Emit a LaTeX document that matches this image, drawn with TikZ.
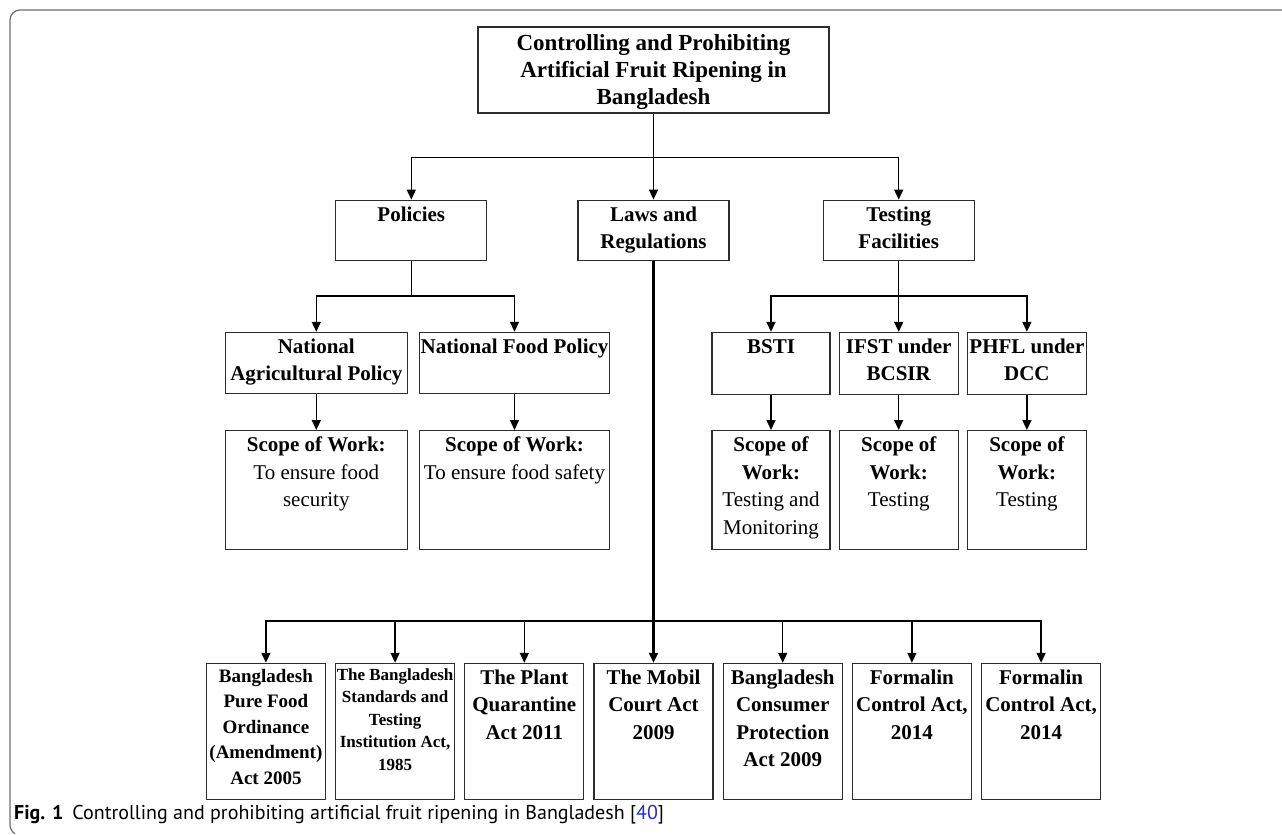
\documentclass[tikz,border=0pt]{standalone}
\usepackage{fontspec}
\setmainfont{Liberation Serif}
\newfontfamily\capfont{PT Sans}
\usetikzlibrary{positioning,arrows.meta}
\definecolor{boxgray}{RGB}{45,45,45}
\definecolor{framegray}{RGB}{110,110,110}
\definecolor{refblue}{RGB}{40,40,220}
\tikzstyle{box}=[draw=boxgray, line width=1.2pt, inner sep=0pt, font=\bfseries\fontsize{21}{27.5}\selectfont]
\tikzstyle{arrow}=[line width=1.5pt, -{Triangle[length=10pt,width=9pt]}]
\tikzstyle{line}=[line width=1.5pt]
\newcommand{\boxtext}[3]{\parbox[c][#2][t]{#1}{\centering\rule{0pt}{1em}#3}}

\begin{document}
\begin{tikzpicture}[x=1pt,y=-1pt]
\useasboundingbox (0,0) rectangle (1282,835);
\draw[framegray, line width=1.2pt] (1282,10) -- (20,10) arc[start angle=270,end angle=180,radius=10] -- (10,825) arc[start angle=180,end angle=120,radius=10];

\node (top) [box, font=\bfseries\fontsize{23}{27}\selectfont] at (653.5,70) {\boxtext{351pt}{86pt}{Controlling and Prohibiting\\Artificial Fruit Ripening in\\Bangladesh}};
\node (law) [box, below=86pt of top] {\boxtext{151pt}{60pt}{Laws and\\Regulations}};
\node (pol) [box, left=90pt of law] {\boxtext{151pt}{60pt}{Policies}};
\node (tf) [box, right=93pt of law] {\boxtext{151pt}{60pt}{Testing\\Facilities}};

% policies
\node (nap) [box, below=71pt of pol, xshift=-95pt] {\boxtext{182pt}{61pt}{National\\Agricultural Policy}};
\node (nfp) [box, right=11pt of nap] {\boxtext{190pt}{61pt}{National Food Policy}};
\node (napw) [box, below=36pt of nap] {\boxtext{182pt}{119pt}{Scope of Work:\\\mdseries To ensure food\\security}};
\node (nfpw) [box, below=36pt of nfp] {\boxtext{190pt}{119pt}{Scope of Work:\\\mdseries To ensure food safety}};

% testing facilities
\node (ifst) [box, below=71pt of tf] {\boxtext{119pt}{62pt}{IFST under\\BCSIR}};
\node (bsti) [box, left=8pt of ifst] {\boxtext{118pt}{62pt}{BSTI}};
\node (phfl) [box, right=8pt of ifst] {\boxtext{119pt}{62pt}{PHFL under\\DCC}};
\node (bstiw) [box, below=35pt of bsti] {\boxtext{118pt}{119pt}{Scope of\\Work:\\\mdseries Testing and\\Monitoring}};
\node (ifstw) [box, below=35pt of ifst] {\boxtext{119pt}{119pt}{Scope of\\Work:\\\mdseries Testing}};
\node (phflw) [box, below=35pt of phfl] {\boxtext{119pt}{119pt}{Scope of\\Work:\\\mdseries Testing}};

% laws and regulations
\node (act4) [box, below=402pt of law] {\boxtext{119pt}{136pt}{The Mobil\\Court Act\\2009}};
\node (act3) [box, left=9pt of act4] {\boxtext{119pt}{136pt}{The Plant\\Quarantine\\Act 2011}};
\node (act2) [box, left=9pt of act3, font=\bfseries\fontsize{17}{22.5}\selectfont] {\boxtext{119pt}{136pt}{The Bangladesh\\Standards and\\Testing\\Institution Act,\\1985}};
\node (act1) [box, left=9pt of act2, font=\bfseries\fontsize{19}{25.5}\selectfont] {\boxtext{119pt}{136pt}{Bangladesh\\Pure Food\\Ordinance\\(Amendment)\\Act 2005}};
\node (act5) [box, right=9pt of act4] {\boxtext{119pt}{136pt}{Bangladesh\\Consumer\\Protection\\Act 2009}};
\node (act6) [box, right=9pt of act5] {\boxtext{119pt}{136pt}{Formalin\\Control Act,\\2014}};
\node (act7) [box, right=9pt of act6] {\boxtext{119pt}{136pt}{Formalin\\Control Act,\\2014}};

\node (cap) [anchor=base west, inner sep=0pt, font=\capfont\fontsize{20}{24}\selectfont] at (14,819) {\textbf{Fig. 1}\hspace{9pt}Controlling and prohibiting artificial fruit ripening in Bangladesh [\textcolor{refblue}{40}]};

\coordinate (j1) at ([yshift=-44pt]top.south);
\coordinate (j2) at ([yshift=-35pt]pol.south);
\coordinate (j3) at ([yshift=-35pt]tf.south);
\coordinate (j4) at ([yshift=-360pt]law.south);

\draw[arrow] (top.south) -- (law.north);
\draw[arrow] (j1) -| (pol.north);
\draw[arrow] (j1) -| (tf.north);

\draw[line] (pol.south) -- (j2);
\draw[arrow] (j2) -| (nap.north);
\draw[arrow] (j2) -| (nfp.north);
\draw[arrow] (nap) -- (napw);
\draw[arrow] (nfp) -- (nfpw);

\draw[arrow] (tf.south) -- (ifst.north);
\draw[arrow] (j3) -| (bsti.north);
\draw[arrow] (j3) -| (phfl.north);
\draw[arrow] (bsti) -- (bstiw);
\draw[arrow] (ifst) -- (ifstw);
\draw[arrow] (phfl) -- (phflw);

\draw[arrow, line width=2.2pt] (law.south) -- (act4.north);
\draw[arrow] (j4) -| (act1.north);
\draw[arrow] (j4) -| (act2.north);
\draw[arrow] (j4) -| (act3.north);
\draw[arrow] (j4) -| (act5.north);
\draw[arrow] (j4) -| (act6.north);
\draw[arrow] (j4) -| (act7.north);
\end{tikzpicture}
\end{document}
